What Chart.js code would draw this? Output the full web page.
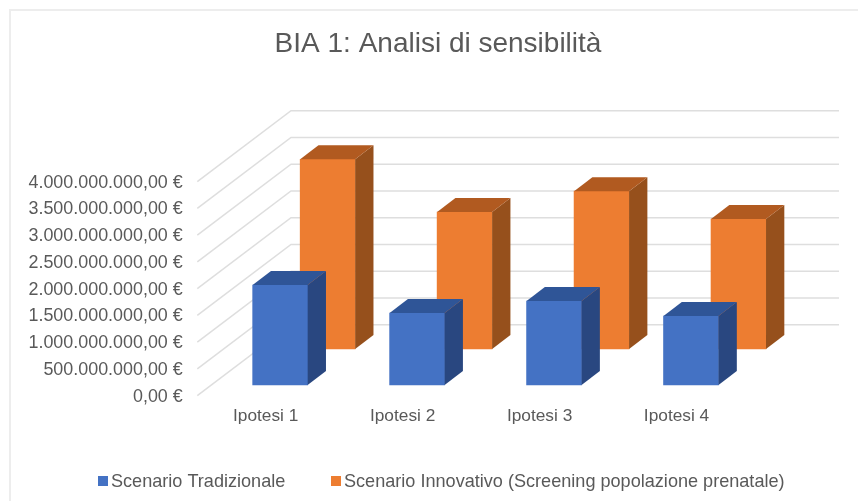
<!DOCTYPE html>
<html>
<head>
<meta charset="utf-8">
<title>BIA 1: Analisi di sensibilità</title>
<script src="https://cdn.jsdelivr.net/npm/chart.js@4"></script>
<style>
  html, body { margin: 0; padding: 0; background: #fff; overflow: hidden; }
  canvas { display: block; }
</style>
</head>
<body>
<canvas id="biaChart" width="858" height="501"></canvas>
<script>
const categories = ['Ipotesi 1', 'Ipotesi 2', 'Ipotesi 3', 'Ipotesi 4'];
const tradizionale = [1870000000, 1346000000, 1570000000, 1290000000];
const innovativo = [3546000000, 2560000000, 2950000000, 2430000000];
const yTickLabels = [
    '0,00 €', '500.000.000,00 €', '1.000.000.000,00 €', '1.500.000.000,00 €', '2.000.000.000,00 €',
    '2.500.000.000,00 €', '3.000.000.000,00 €', '3.500.000.000,00 €', '4.000.000.000,00 €'
];
const fontName = '"Liberation Sans", Arial, sans-serif';
const textColor = '#595959';

// where each series sits inside the fake 3d box, and how deep the bars / the box are
const seriesShift = [{ x: 14.5, y: -11.7 }, { x: 62, y: -47.7 }];
const sideColors = ['#294780', '#96501C'];
const topColors = ['#2F5597', '#B15A20'];
const barDepth = { x: 18.3, y: 14 };
const wallDepth = { x: 93.7, y: 71 };
const wallRight = 839;

function poly(ctx, color, pts) {
    ctx.fillStyle = color;
    ctx.beginPath();
    pts.forEach(function (p, i) { i ? ctx.lineTo(p[0], p[1]) : ctx.moveTo(p[0], p[1]); });
    ctx.closePath();
    ctx.fill();
}

const box3d = {
    id: 'box3d',
    afterLayout(chart) {
        // the title is centred on the frame, which runs past the right edge of the picture
        chart.titleBlock.left = 18;
        chart.titleBlock.right = 858;
    },
    beforeDraw(chart) {
        const ctx = chart.ctx;
        ctx.save();
        ctx.fillStyle = '#fff';
        ctx.fillRect(0, 0, chart.width, chart.height);
        ctx.strokeStyle = '#EDEDED';
        ctx.lineWidth = 2;
        ctx.strokeRect(10, 10, 950, 600);
        ctx.restore();
    },
    beforeDatasetsDraw(chart) {
        const ctx = chart.ctx;
        const left = chart.chartArea.left + 0.1;
        ctx.save();
        chart.scales.y.ticks.forEach(function (t) {
            const y = chart.scales.y.getPixelForValue(t.value) - 1;
            ctx.strokeStyle = '#DEDEDE';
            ctx.lineWidth = 1.5;
            ctx.beginPath();
            ctx.moveTo(left, y);
            ctx.lineTo(left + wallDepth.x, y - wallDepth.y);
            ctx.lineTo(wallRight, y - wallDepth.y);
            ctx.stroke();
        });
        ctx.restore();
    },
    beforeDatasetDraw(chart, args) {
        const s = seriesShift[args.index];
        chart.ctx.save();
        chart.ctx.translate(s.x, s.y);
    },
    afterDatasetDraw(chart, args) {
        const ctx = chart.ctx;
        args.meta.data.forEach(function (bar) {
            const p = bar.getProps(['x', 'y', 'base', 'width'], true);
            const l = p.x - p.width / 2, r = p.x + p.width / 2;
            const dx = barDepth.x, dy = barDepth.y;
            poly(ctx, sideColors[args.index], [[r, p.y], [r + dx, p.y - dy], [r + dx, p.base - dy], [r, p.base]]);
            poly(ctx, topColors[args.index], [[l, p.y], [l + dx, p.y - dy], [r + dx, p.y - dy], [r, p.y]]);
        });
        ctx.restore();
    },
    afterDraw(chart) {
        // legend has a tighter box/text gap than the built in one allows
        const ctx = chart.ctx;
        const items = [{ box: 98, text: 111 }, { box: 331, text: 344 }];
        ctx.save();
        ctx.font = '18.1px ' + fontName;
        ctx.textBaseline = 'middle';
        chart.data.datasets.forEach(function (ds, i) {
            ctx.fillStyle = ds.backgroundColor;
            ctx.fillRect(items[i].box, 476, 10, 10);
            ctx.fillStyle = textColor;
            ctx.fillText(ds.label, items[i].text, 482);
        });
        ctx.restore();
    }
};

new Chart(document.getElementById('biaChart'), {
    type: 'bar',
    plugins: [box3d],
    data: {
        labels: categories,
        datasets: [
            { label: 'Scenario Tradizionale', data: tradizionale, backgroundColor: '#4472C4', clip: false },
            { label: 'Scenario Innovativo (Screening popolazione prenatale)', data: innovativo, backgroundColor: '#ED7D31', clip: false }
        ]
    },
    options: {
        responsive: false,
        animation: false,
        grouped: false,
        barThickness: 55,
        layout: { padding: { left: 18, right: 113, top: 0, bottom: 64.3 } },
        plugins: {
            legend: { display: false },
            tooltip: { enabled: false },
            title: {
                display: true,
                text: 'BIA 1: Analisi di sensibilità',
                color: textColor,
                font: { family: fontName, size: 28, weight: 'normal' },
                padding: { top: 27, bottom: 122.1 }
            }
        },
        scales: {
            x: {
                grid: { display: false, drawTicks: false },
                border: { display: false },
                ticks: { color: textColor, font: { family: fontName, size: 17.3 }, padding: 9.5, maxRotation: 0 },
                afterFit(scale) { scale.height = 40; }
            },
            y: {
                min: 0,
                max: 4000000000,
                grid: { display: false, drawTicks: false },
                border: { display: false },
                ticks: {
                    stepSize: 500000000,
                    color: textColor,
                    font: { family: fontName, size: 17.9 },
                    padding: 14.5,
                    callback: function (value, index) { return yTickLabels[index]; }
                },
                afterFit(scale) { scale.width = 179.2; }
            }
        }
    }
});
</script>
</body>
</html>
